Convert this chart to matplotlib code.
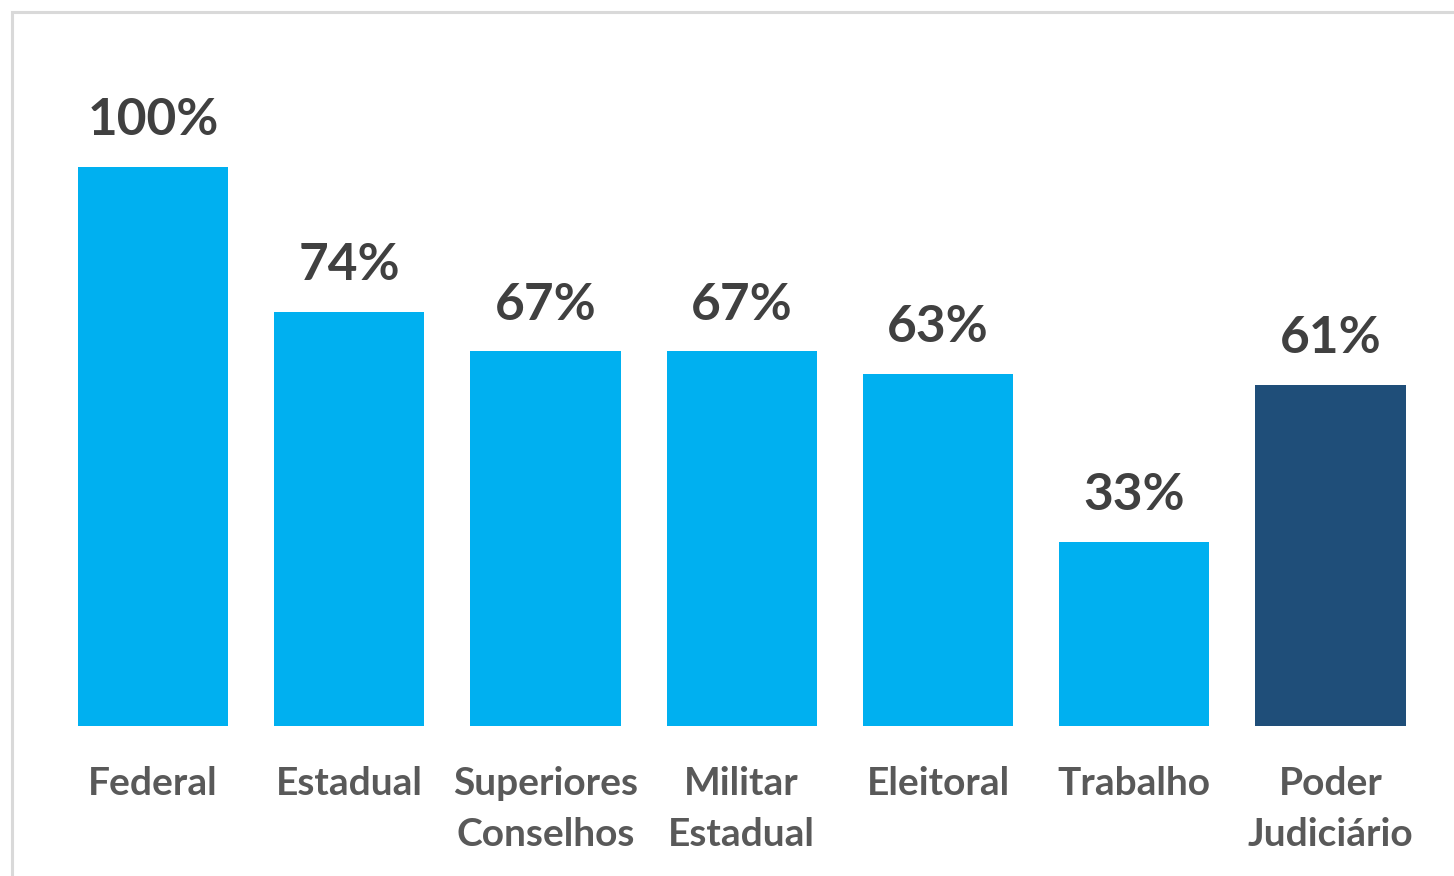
import matplotlib.pyplot as plt
from matplotlib.patches import Rectangle

# Data
categories = ["Federal", "Estadual", "Superiores\nConselhos", "Militar\nEstadual",
              "Eleitoral", "Trabalho", "Poder\nJudiciário"]
values = [100, 74, 67, 67, 63, 33, 61]
colors = ["#00B0F0"] * 6 + ["#1F4E79"]

plt.rcParams['font.family'] = ['Lato', 'DejaVu Sans']

fig = plt.figure(figsize=(14.54, 8.76), dpi=100)
ax = fig.add_axes([0, 150 / 876, 1, 696 / 876])

x = list(range(len(categories)))
bars = ax.bar(x, values, width=0.765, color=colors)

ax.set_xlim(-153 / 196.25, (1454 - 153) / 196.25)
ax.set_ylim(0, 100 * 696 / 559)

# Value labels
for xi, v in zip(x, values):
    ax.annotate(f"{v}%", (xi, v), xytext=(0, 23), textcoords="offset points",
                ha="center", va="baseline", fontsize=37, fontweight="bold",
                color="#404040")

ax.set_xticks(x)
ax.set_xticklabels(categories, fontsize=28, fontweight="bold", color="#595959",
                   linespacing=1.55)
ax.tick_params(axis="x", length=0, pad=29)
ax.set_yticks([])
for s in ax.spines.values():
    s.set_visible(False)

# Light gray frame (cropped at right and bottom)
fig.patches.append(Rectangle((12 / 1454, -0.1), 1.2, 1.1 - 12 / 876,
                             transform=fig.transFigure, fill=False,
                             edgecolor="#D9D9D9", linewidth=2.2))

fig.savefig("out.png", dpi=100)
